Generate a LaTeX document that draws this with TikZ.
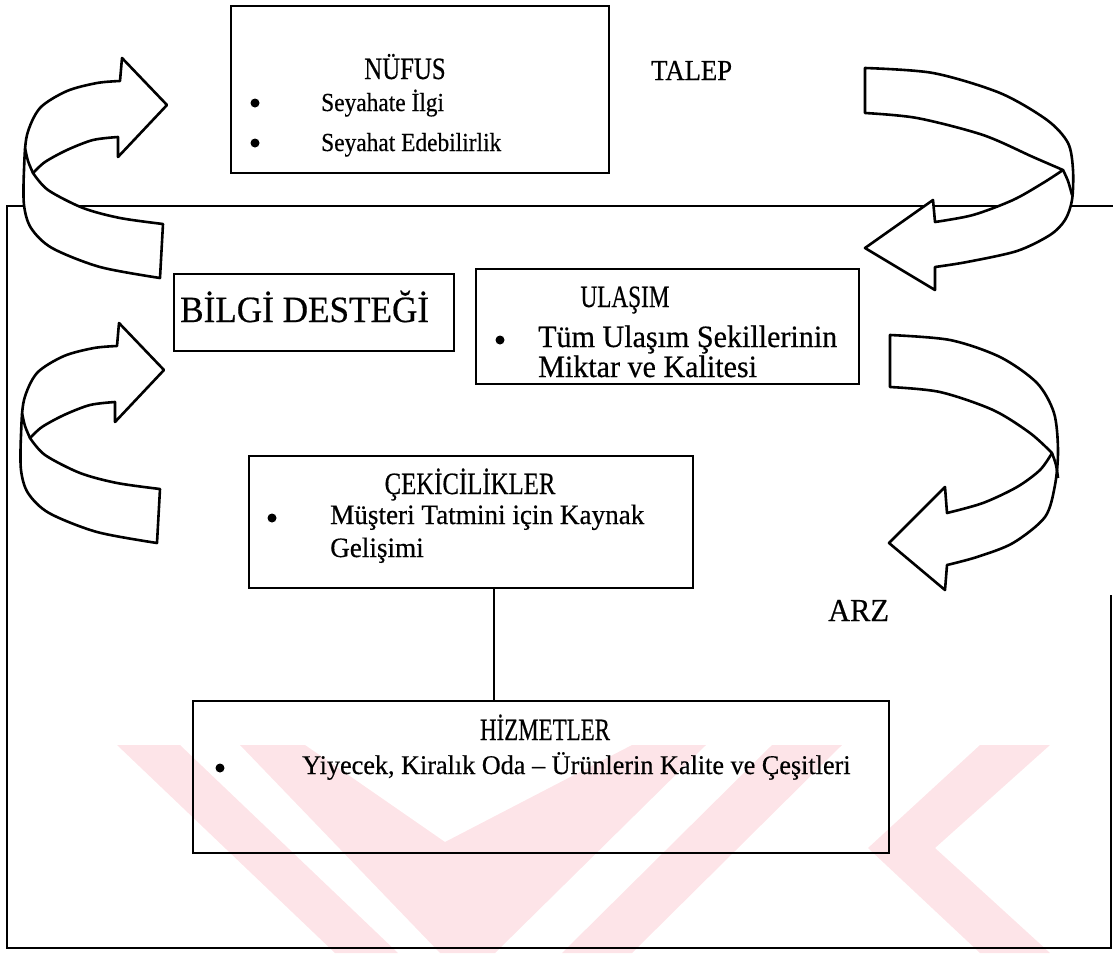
\documentclass[tikz,border=0pt]{standalone}
\usepackage{fontspec}
\setmainfont{Liberation Serif}[FakeBold=0.5]
% font size, horizontal squeeze, text
\newcommand{\tx}[3]{\fontsize{#1}{#1}\selectfont\scalebox{#2}[1]{#3}}
\definecolor{wmpink}{RGB}{253,228,232}
\begin{document}
\begin{tikzpicture}[x=1pt,y=-1pt,
  box/.style={draw, line width=2.2pt, inner sep=0pt, anchor=north west},
  frame/.style={draw, line width=2.2pt},
  ribbon/.style={draw, line width=2.6pt, fill=white, line join=round},
  foldline/.style={draw, line width=2.6pt},
  title/.style={inner sep=0pt, anchor=base},
  label/.style={inner sep=0pt, anchor=base west},
  body/.style={inner sep=0pt, anchor=base west},
  dot/.style={circle, fill, inner sep=0pt, minimum size=9pt},
  mark band/.style={fill=wmpink, draw=none}]
\useasboundingbox (0,0) rectangle (1113,953);

% pale stamp in the lower part of the page
\fill[mark band] (117,745) -- (180,745) -- (398,953) -- (335,953) -- cycle;
\fill[mark band] (240,745) -- (305,745) -- (445,842) -- (632,745) -- (706,745)
  -- (495,953) -- (440,953) -- cycle;
\fill[mark band] (772,745) -- (842,745) -- (632,953) -- (562,953) -- cycle;
\fill[mark band] (980,745) -- (1050,745) -- (935,848) -- (1050,953) -- (980,953)
  -- (868,848) -- cycle;

% outer frame of the supply side
\coordinate (fr1) at (1113,206);
\coordinate (fr2) at (7,206);
\coordinate (fr3) at (7,948);
\coordinate (fr4) at (1111,948);
\coordinate (fr5) at (1111,595);
\draw[frame] (fr1) -- (fr2) -- (fr3) -- (fr4) -- (fr5);

% upper-left and lower-left turning ribbons
\foreach \dx/\dy in {0/0, -3/265}{
\begin{scope}[shift={(\dx,\dy)}]
\filldraw[ribbon] (163,224) -- (160,278)
  -- plot[smooth] coordinates {(160,278) (100,267) (52,248) (31,228) (24,205) (24,170) (27,135) (40,108) (67,91) (97,83) (120,81)}
  -- (122,58) -- (167,105) -- (118,157) -- (118,137)
  -- plot[smooth] coordinates {(118,137) (93,140) (67,150) (45,162) (33,173)}
  -- plot[smooth] coordinates {(33,173) (48,190) (83,208) (120,218) (163,224)} -- cycle;
\draw[foldline] plot[smooth] coordinates {(25,148) (28,161) (33,173)};
\end{scope}}

% upper-right turning ribbon
\filldraw[ribbon] (865,68)
  -- plot[smooth] coordinates {(865,68) (933,73) (1000,93) (1047,120) (1068,143) (1073,170) (1072,200) (1065,220) (1050,235) (1017,251) (967,262) (935,267)}
  -- (935,290) -- (865,248) -- (933,200) -- (935,222)
  -- plot[smooth] coordinates {(935,222) (973,215) (1013,200) (1043,183) (1063,170)}
  -- plot[smooth] coordinates {(1063,170) (1033,157) (983,135) (917,118) (865,113)} -- cycle;
\draw[foldline] plot[smooth] coordinates {(1063,170) (1068,181) (1072,195)};

% lower-right turning ribbon
\filldraw[ribbon] (890,335)
  -- plot[smooth] coordinates {(890,335) (950,340) (1000,357) (1037,383) (1054,413) (1058,450) (1055,485) (1045,517) (1013,543) (977,557) (947,565)}
  -- (945,590) -- (889,543) -- (945,487) -- (947,513)
  -- plot[smooth] coordinates {(947,513) (983,503) (1017,487) (1040,470) (1052,453)}
  -- plot[smooth] coordinates {(1052,453) (1030,433) (993,410) (940,392) (890,387)} -- cycle;
\draw[foldline] plot[smooth] coordinates {(1052,453) (1056,465) (1058,478)};

% boxes
\node[box, minimum width=378pt, minimum height=167pt] (nufus) at (230,5) {};
\node[box, minimum width=280pt, minimum height=77pt] (bilgi) at (173,273) {};
\node[box, minimum width=383pt, minimum height=115pt] (ulasim) at (475,268) {};
\node[box, minimum width=444pt, minimum height=132pt] (cekici) at (248,455) {};
\node[box, minimum width=696pt, minimum height=152pt] (hizmet) at (192,700) {};

% connector between attractions and services
\path (cekici.south) ++(23,0) coordinate (cj);
\draw[line width=2pt] (cj) -- (cj |- hizmet.north);

% texts
\node[title] (t1) at (405,79) {\tx{31}{0.8}{NÜFUS}};
\node[dot] (d1) at (255,103) {};
\node[body] (s1) at (321,111) {\tx{26}{0.9}{Seyahate İlgi}};
\node[dot] (d2) at (255,143) {};
\node[body] (s2) at (321,151) {\tx{26}{0.9}{Seyahat Edebilirlik}};
\node[label] (talep) at (651,80) {\tx{29}{0.92}{TALEP}};

\node[label] (t2) at (180,322) {\tx{37}{0.95}{BİLGİ DESTEĞİ}};

\node[title] (t3) at (625,307) {\tx{31}{0.75}{ULAŞIM}};
\node[dot] (d3) at (500,340) {};
\node[body] (s3) at (538,347) {\tx{31}{0.97}{Tüm Ulaşım Şekillerinin}};
\node[body] (s4) at (538,377) {\tx{31}{0.97}{Miktar ve Kalitesi}};

\node[title] (t4) at (470,494) {\tx{31}{0.8}{ÇEKİCİLİKLER}};
\node[dot] (d4) at (272,518) {};
\node[body] (s5) at (330,524) {\tx{28}{0.97}{Müşteri Tatmini için Kaynak}};
\node[body] (s6) at (330,557) {\tx{28}{0.97}{Gelişimi}};

\node[label] (arz) at (828,621) {\tx{32}{0.95}{ARZ}};

\node[title] (t5) at (545,740) {\tx{31}{0.74}{HİZMETLER}};
\node[dot] (d5) at (220,768) {};
\node[body] (s7) at (302,774) {\tx{27}{0.97}{Yiyecek, Kiralık Oda – Ürünlerin Kalite ve Çeşitleri}};
\end{tikzpicture}
\end{document}
